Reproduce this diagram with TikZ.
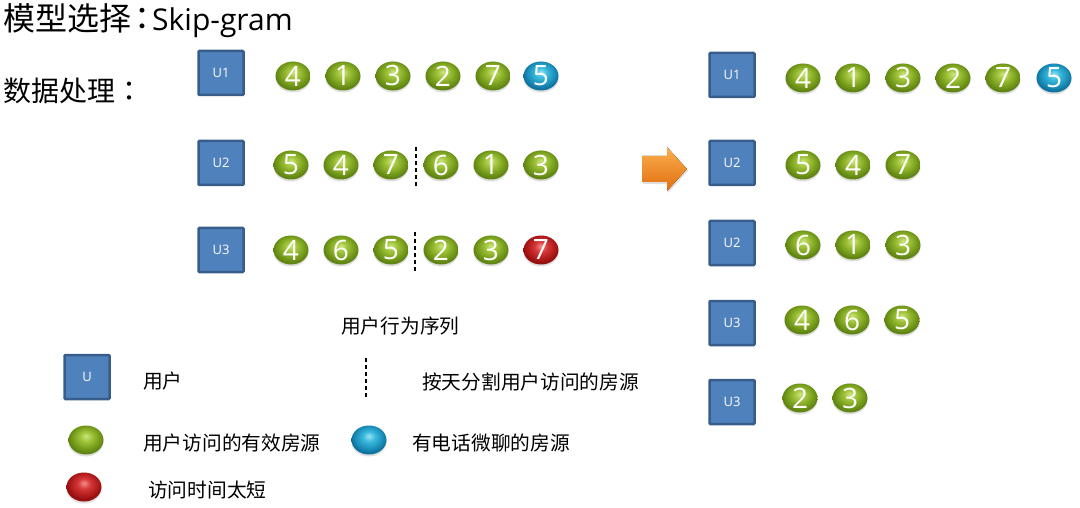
\documentclass[tikz,border=0pt]{standalone}
\usepackage{fontspec}
\setmainfont{Noto Sans CJK SC}
\newfontfamily\numfont{Open Sans}
\newfontfamily\colonfont{Noto Sans CJK JP}
\usetikzlibrary{shapes.geometric,shadows,positioning}

\definecolor{boxfill}{RGB}{79,129,189}
\definecolor{boxline}{RGB}{56,93,138}
\definecolor{arrowtop}{RGB}{250,175,80}
\definecolor{arrowbot}{RGB}{225,110,15}

\pgfdeclareradialshading{greenball}{\pgfpoint{0bp}{7bp}}{rgb(0bp)=(0.80,0.90,0.50); rgb(9bp)=(0.62,0.76,0.22); rgb(20bp)=(0.45,0.60,0.10); rgb(25bp)=(0.38,0.52,0.08); rgb(50bp)=(0.38,0.52,0.08)}
\pgfdeclareradialshading{blueball}{\pgfpoint{0bp}{7bp}}{rgb(0bp)=(0.60,0.88,0.96); rgb(9bp)=(0.22,0.72,0.86); rgb(20bp)=(0.10,0.55,0.72); rgb(25bp)=(0.06,0.45,0.62); rgb(50bp)=(0.06,0.45,0.62)}
\pgfdeclareradialshading{redball}{\pgfpoint{0bp}{7bp}}{rgb(0bp)=(0.96,0.55,0.55); rgb(9bp)=(0.84,0.22,0.22); rgb(20bp)=(0.68,0.10,0.10); rgb(25bp)=(0.58,0.06,0.06); rgb(50bp)=(0.58,0.06,0.06)}

\begin{document}
\begin{tikzpicture}
[   x=1pt, y=-1pt,
    ubox/.style={draw=boxline, line width=2.5pt, fill=boxfill, minimum width=45pt, minimum height=44pt, inner sep=0pt, rounded corners=1pt, text=white, font=\numfont\fontsize{13}{13}\selectfont},
    room/.style={ellipse, shading=greenball, minimum width=35pt, minimum height=29pt, inner sep=0pt, text=white, font=\numfont\fontsize{28}{28}\selectfont,
        drop shadow={opacity=0.25, shadow xshift=0pt, shadow yshift=-2pt}},
    call/.style={room, shading=blueball},
    short/.style={room, shading=redball},
    cut/.style={line width=1.6pt, dash pattern=on 4pt off 3pt},
    txt/.style={anchor=west, inner sep=0pt, font=\fontsize{19.7}{19.7}\selectfont},
]
    \useasboundingbox (0,0) rectangle (1080,508);

    \node[anchor=west, inner sep=0pt] (title) at (3,21) {\fontsize{32}{32}\selectfont 模型选择\hspace{-5pt}\colonfont ：\hspace{-6pt}\numfont\fontsize{30}{30}\selectfont Skip-gram};
    \node[anchor=west, inner sep=0pt, font=\fontsize{28}{28}\selectfont] (data) at (3,91) {数据处理\colonfont ：};

    % left side: raw sequences
    \node[ubox] (u-1) at (221,73) {U1};
    \node[ubox] (u-2) at (221,163) {U2};
    \node[ubox] (u-3) at (221,250) {U3};

    \foreach \n [count=\i] in {4,1,3,2,7}
        \node[room] (a-\i) at ({243+50*\i},76) {\n};
    \node[call] (a-6) at (541,76) {5};

    \foreach \n [count=\i] in {5,4,7,6,1,3}
        \node[room] (b-\i) at ({241+50*\i},165) {\n};

    \foreach \n [count=\i] in {4,6,5,2,3}
        \node[room] (c-\i) at ({241+50*\i},250) {\n};
    \node[short] (c-6) at (541,250) {7};

    \coordinate (cut-b1) at (416,147);
    \coordinate (cut-b2) at (416,186);
    \coordinate (cut-c1) at (415,232);
    \coordinate (cut-c2) at (415,271);
    \draw[cut] (cut-b1) -- (cut-b2);
    \draw[cut] (cut-c1) -- (cut-c2);

    \node[txt] (seq) at (341,326) {用户行为序列};

    % arrow
    \fill[top color=arrowtop, bottom color=arrowbot, drop shadow={opacity=0.25, shadow xshift=1pt, shadow yshift=-2pt}]
        (642,156) -- (667,156) -- (667,147) -- (687,169) -- (667,191) -- (667,182) -- (642,182) -- cycle;

    % right side: split by day
    \node[ubox] (v-1) at (732,75) {U1};
    \node[ubox] (v-2) at (732,163) {U2};
    \node[ubox] (v-3) at (732,243) {U2};
    \node[ubox] (v-4) at (732,323) {U3};
    \node[ubox] (v-5) at (732,402) {U3};

    \foreach \n [count=\i] in {4,1,3,2,7}
        \node[room] (r1-\i) at ({753+50*\i},78) {\n};
    \node[call] (r1-6) at (1054,78) {5};
    \foreach \n [count=\i] in {5,4,7}
        \node[room] (r2-\i) at ({753+50*\i},165) {\n};
    \foreach \n [count=\i] in {6,1,3}
        \node[room] (r3-\i) at ({753+50*\i},245) {\n};
    \foreach \n [count=\i] in {4,6,5}
        \node[room] (r4-\i) at ({752+50*\i},320) {\n};
    \foreach \n [count=\i] in {2,3}
        \node[room] (r5-\i) at ({750+50*\i},398) {\n};

    % legend
    \node[ubox] (key-u) at (87,377) {U};
    \node[txt] (key-ut) at (143,381) {用户};
    \coordinate (key-c1) at (366,358);
    \coordinate (key-c2) at (366,397);
    \draw[cut] (key-c1) -- (key-c2);
    \node[txt] (key-ct) at (422,382) {按天分割用户访问的房源};
    \node[room] (key-g) at (86,440) {};
    \node[txt] (key-gt) at (143,443) {用户访问的有效房源};
    \node[call] (key-b) at (369,440) {};
    \node[txt] (key-bt) at (412,443) {有电话微聊的房源};
    \node[short] (key-r) at (84,487) {};
    \node[txt] (key-rt) at (148,490) {访问时间太短};

\end{tikzpicture}
\end{document}
